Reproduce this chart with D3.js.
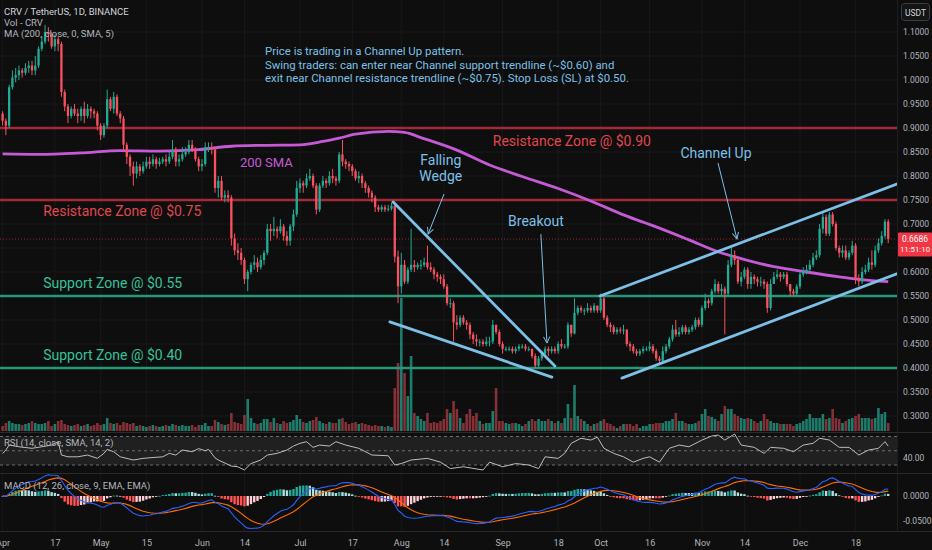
<!DOCTYPE html>
<html>
<head>
<meta charset="utf-8">
<script src="https://d3js.org/d3.v7.min.js"></script>
<style>
  body { margin: 0; background: #0e0e0e; }
  svg { display: block; font-family: Roboto, "Noto Sans", sans-serif; }
</style>
</head>
<body>
<script>
// ---- data (daily CRV/USDT) ----
const startDay = "2023-04-01";
const firstOpen = 0.93;

const closes = [
  // Apr
  .915,.905,.985,1.005,1.01,1.02,1.015,1.025,1.03,1.02,1.03,1.065,1.08,1.10,1.095,1.07,1.085,1.075,.975,.945,.925,.94,.93,.925,.94,.925,.94,.935,.93,.905,
  // May
  .885,.905,.96,.94,.965,.93,.92,.865,.84,.82,.805,.82,.81,.82,.83,.825,.835,.825,.83,.835,.83,.84,.855,.83,.835,.845,.85,.865,.855,.835,.82,
  // Jun
  .825,.86,.86,.855,.775,.79,.755,.76,.755,.67,.645,.64,.625,.585,.60,.615,.62,.61,.625,.64,.69,.685,.69,.685,.695,.675,.665,.695,.72,.775,
  // Jul
  .785,.78,.795,.80,.78,.73,.78,.79,.785,.80,.795,.79,.845,.83,.825,.82,.81,.795,.80,.785,.775,.765,.755,.735,.73,.735,.73,.732,.738,.632,.57,
  // Aug
  .615,.58,.605,.615,.61,.615,.615,.62,.61,.605,.595,.59,.585,.57,.535,.535,.495,.49,.505,.495,.49,.47,.46,.455,.455,.45,.455,.455,.49,.475,.45,
  // Sep
  .44,.44,.44,.435,.44,.445,.445,.44,.44,.425,.405,.42,.43,.44,.435,.44,.435,.45,.445,.445,.49,.472,.515,.525,.52,.52,.525,.52,.53,.52,
  // Oct
  .545,.505,.49,.485,.475,.48,.478,.48,.45,.445,.435,.43,.435,.44,.44,.445,.435,.42,.415,.435,.445,.46,.48,.47,.475,.485,.475,.48,.485,.50,.49,
  // Nov
  .525,.54,.535,.56,.575,.56,.565,.555,.615,.635,.625,.58,.59,.605,.575,.59,.585,.58,.58,.575,.525,.575,.59,.595,.59,.595,.575,.56,.555,.57,
  // Dec
  .595,.60,.605,.615,.63,.635,.69,.715,.68,.72,.70,.65,.64,.645,.63,.64,.655,.585,.58,.60,.605,.62,.615,.645,.66,.675,.705,.6686
];

const highs = [
  .935,.92,.99,1.02,1.025,1.03,1.025,1.035,1.04,1.04,1.05,1.07,1.09,1.115,1.11,1.10,1.095,1.09,1.08,.98,.95,.945,.95,.94,.945,.955,.95,.945,.94,.935,
  .91,.91,.98,.965,.975,.97,.935,.925,.87,.845,.83,.83,.825,.83,.84,.84,.845,.84,.838,.84,.845,.85,.875,.86,.845,.86,.86,.875,.875,.86,.84,
  .835,.87,.87,.87,.86,.80,.80,.77,.77,.76,.68,.66,.65,.63,.605,.62,.635,.63,.635,.645,.70,.70,.715,.695,.71,.70,.685,.70,.73,.79,
  .795,.79,.805,.815,.805,.785,.785,.80,.795,.81,.815,.80,.85,.875,.835,.83,.825,.815,.81,.805,.79,.78,.77,.76,.74,.74,.74,.74,.745,.745,.645,
  .64,.625,.61,.69,.625,.62,.625,.63,.655,.62,.61,.60,.595,.595,.575,.545,.54,.51,.51,.51,.50,.495,.475,.47,.46,.46,.465,.465,.50,.49,.48,
  .455,.445,.445,.445,.445,.45,.45,.45,.445,.44,.43,.425,.435,.445,.445,.445,.445,.455,.46,.45,.495,.49,.545,.53,.53,.525,.535,.53,.535,.53,
  .555,.55,.51,.495,.49,.485,.485,.49,.48,.455,.45,.44,.44,.445,.445,.455,.45,.44,.425,.445,.45,.465,.49,.50,.485,.49,.49,.485,.49,.505,.505,
  .53,.555,.545,.565,.585,.58,.575,.57,.625,.655,.645,.63,.60,.61,.61,.60,.595,.59,.59,.585,.58,.585,.60,.605,.60,.60,.60,.575,.565,.575,
  .60,.61,.615,.625,.64,.645,.70,.725,.72,.725,.725,.705,.655,.655,.655,.645,.665,.66,.595,.61,.615,.63,.645,.655,.67,.685,.71,.71
];

const lows = [
  .905,.885,.90,.98,.995,1.00,1.005,1.01,1.015,1.01,1.01,1.025,1.06,1.075,1.08,1.065,1.06,1.06,.965,.935,.91,.92,.925,.91,.915,.91,.92,.92,.92,.895,
  .875,.88,.90,.935,.93,.925,.91,.855,.825,.80,.78,.795,.80,.805,.815,.815,.82,.815,.82,.825,.82,.825,.835,.82,.82,.83,.84,.845,.85,.83,.81,
  .81,.82,.85,.845,.765,.755,.75,.745,.745,.655,.635,.625,.615,.575,.56,.595,.605,.60,.605,.615,.635,.665,.675,.67,.68,.665,.655,.655,.685,.715,
  .765,.765,.775,.79,.775,.72,.725,.775,.775,.78,.785,.78,.785,.82,.815,.81,.80,.79,.785,.775,.765,.755,.745,.725,.725,.725,.725,.726,.728,.62,.535,
  .555,.575,.575,.60,.60,.605,.605,.61,.605,.60,.585,.58,.575,.565,.53,.525,.455,.48,.485,.49,.48,.46,.45,.445,.445,.445,.445,.445,.45,.47,.445,
  .43,.435,.435,.43,.43,.435,.44,.435,.435,.42,.40,.40,.415,.425,.425,.43,.43,.43,.44,.44,.44,.465,.47,.51,.515,.51,.515,.515,.515,.515,
  .515,.50,.485,.475,.47,.47,.472,.47,.445,.435,.43,.425,.425,.43,.435,.435,.43,.415,.41,.41,.43,.44,.455,.465,.465,.47,.47,.47,.475,.48,.485,
  .485,.52,.525,.53,.555,.555,.55,.47,.55,.61,.615,.575,.57,.585,.565,.565,.575,.57,.57,.565,.515,.52,.575,.585,.58,.585,.57,.55,.55,.55,
  .565,.59,.595,.60,.61,.625,.63,.68,.675,.675,.695,.645,.63,.63,.625,.625,.635,.575,.57,.575,.595,.60,.605,.61,.64,.655,.67,.66
];

// volume, millions CRV
const volumes = [
  5,8,10,8,7,7,6,7,8,10,8,7,7,8,10,5,7,10,11,7,6,5,6,7,5,6,7,5,6,8,
  6,7,13,8,7,8,6,9,8,7,8,5,6,5,4,5,6,5,4,5,6,5,7,6,5,6,5,5,6,4,6,
  6,8,5,5,11,9,7,6,7,18,9,8,7,16,32,13,8,7,8,12,12,9,13,8,7,10,8,9,11,16,
  12,9,8,10,11,14,10,8,7,9,8,8,12,13,9,7,8,9,7,8,7,6,5,6,5,5,4,5,4,43,68,
  133,58,35,75,18,15,12,10,18,8,9,8,10,12,22,18,30,22,13,8,17,22,15,18,10,7,8,8,20,43,10,
  10,8,7,8,8,7,5,7,10,12,10,12,10,10,12,10,8,10,8,13,27,13,46,15,12,10,7,5,7,8,
  10,12,8,7,5,3,5,7,7,7,5,7,3,5,5,7,7,8,8,8,10,10,12,18,10,10,8,7,7,8,10,
  17,22,15,14,12,10,17,25,22,22,17,15,13,12,13,12,10,8,10,17,12,10,8,8,7,7,7,7,5,7,
  8,10,12,17,13,13,13,17,12,13,22,13,12,8,10,12,13,15,17,13,13,13,12,13,23,17,19,8
];

// 200-day SMA, [day index, value]
const smaPoints = [
  [0,.846],[11,.845],[24,.848],[36,.853],[48,.852],[60,.855],[70,.862],[80,.864],[91,.865],
  [98,.872],[103,.879],[108,.887],[118,.893],[123,.891],[128,.880],[139,.854],[149,.823],
  [159,.799],[170,.774],[180,.748],[190,.719],[200,.694],[210,.667],[219,.642],[226,.628],
  [236,.611],[246,.60],[256,.59],[266,.582],[271,.58]
];

// RSI(14), [day index, value]
const rsiPoints = [
  [0,46],[1,51],[2,58],[5,55.6],[9,53.4],[12,55.6],[15,58],[17,62.7],[18,44],[20,41.5],[23,41.5],
  [26,44],[29,39.3],[31,46.3],[32,52],[34,48.6],[36,41.5],[40,37],[43,39.3],[46,40.5],[49,41.5],
  [51,46.3],[53,44],[55,51],[58,48.6],[60,53],[62,50],[63,52],[65,40],[66,37],[70,28.5],[72,27.5],
  [74,23],[76,32],[79,37],[81,44],[84,46.3],[87,51],[89,56.6],[91,60.4],[93,62.7],[95,54.8],
  [97,58],[100,56.6],[102,62.7],[105,58],[109,53.4],[113,44],[118,43],[120,30],[122,32],[125,37],
  [130,39.3],[134,34],[137,25],[141,27.5],[147,23],[149,34],[153,27.5],[157,32],[161,30],[164,25],
  [166,41.5],[170,39.3],[172,46.3],[174,60.4],[177,67.5],[180,65],[182,69],[184,53.4],[187,46.3],
  [190,41.5],[193,34],[196,39.3],[198,41.5],[201,34],[204,53.4],[207,58],[210,55.6],[214,65],
  [217,70.7],[219,72],[221,65],[224,73.5],[226,58],[230,54.8],[233,46.3],[235,54.8],[239,53.4],
  [242,48.6],[245,58],[248,60.4],[250,67.5],[253,65],[256,54.8],[259,54.8],[262,44],[265,51],
  [268,53.4],[270,62.7],[271,56.6]
];

const priceTicks = [0.30,0.35,0.40,0.45,0.50,0.55,0.60,0.65,0.70,0.75,0.80,0.85,0.90,0.95,1.00,1.05,1.10];
const timeTickDates = ["2023-04-01","2023-04-17","2023-05-01","2023-05-15","2023-06-01","2023-06-14",
  "2023-07-01","2023-07-17","2023-08-01","2023-08-14","2023-09-01","2023-09-18","2023-10-01",
  "2023-10-16","2023-11-01","2023-11-14","2023-12-01","2023-12-18"];
const timeTickLabels = ["Apr","17","May","15","Jun","14","Jul","17","Aug","14","Sep","18","Oct","16","Nov","14","Dec","18"];

const resistanceLevels = [0.90, 0.75];
const supportLevels = [0.55, 0.40];

// drawings, anchored in [time, price]
const trendLines = [
  [["2023-07-29T12:00:00Z", 0.746], ["2023-09-17T00:00:00Z", 0.404]],
  [["2023-07-28T12:00:00Z", 0.496], ["2023-09-16T02:00:00Z", 0.381]],
  [["2023-09-30T19:00:00Z", 0.550], ["2023-12-31T07:00:00Z", 0.785]],
  [["2023-10-07T12:00:00Z", 0.379], ["2023-12-31T07:00:00Z", 0.598]]
];
const arrows = [
  [["2023-08-14T02:00:00Z", 0.7625], ["2023-08-09T05:00:00Z", 0.679]],
  [["2023-09-12T17:00:00Z", 0.679], ["2023-09-14T14:00:00Z", 0.452]],
  [["2023-11-05T22:00:00Z", 0.827], ["2023-11-11T17:00:00Z", 0.669]]
];
const noteLines = [
  "Price is trading in a Channel Up pattern.",
  "Swing traders: can enter near Channel support trendline (~$0.60) and",
  "exit near Channel resistance trendline (~$0.75). Stop Loss (SL) at $0.50."
];

// ---- layout ----
const W = 932, H = 550;
const paneR = 897;
const mainB = 432, rsiT = 433, rsiB = 473, macdT = 474, macdB = 531;
const up = "#22ab94", down = "#f7525f";

const day0 = d3.utcParse("%Y-%m-%d")(startDay);
const dates = closes.map((_, i) => d3.utcDay.offset(day0, i));
const opens = closes.map((c, i) => i ? closes[i - 1] : firstOpen);
const candles = dates.map((d, i) => ({ d, o: opens[i], h: highs[i], l: lows[i], c: closes[i], v: volumes[i] }));

const step = 3.268;
const x = d3.scaleUtc().domain([dates[0], dates[dates.length - 1]])
  .range([2.6, 2.6 + (dates.length - 1) * step]);
const y = d3.scaleLinear().domain([0.40, 0.90]).range([368, 128]);
const yVol = d3.scaleLinear().domain([0, 133]).range([431, 298]);
const yRsi = d3.scaleLinear().domain([30, 70]).range([465, 436.5]);
const yMacd = d3.scaleLinear().domain([-0.05, 0]).range([520.7, 496]);
const dayX = i => x(d3.utcDay.offset(day0, i));
const pt = p => [x(d3.isoParse(p[0])), y(p[1])];

const svg = d3.select("body").append("svg").attr("width", W).attr("height", H);
svg.append("rect").attr("width", W).attr("height", H).attr("fill", "#0e0e0e");

const defs = svg.append("defs");
defs.append("clipPath").attr("id", "mainClip").append("rect").attr("width", paneR).attr("height", mainB);
defs.append("clipPath").attr("id", "rsiClip").append("rect").attr("y", rsiT).attr("width", paneR).attr("height", rsiB - rsiT);
defs.append("clipPath").attr("id", "macdClip").append("rect").attr("y", macdT).attr("width", paneR).attr("height", macdB - macdT);
defs.append("marker").attr("id", "arrowHead").attr("viewBox", "0 -5 10 10")
  .attr("refX", 9).attr("refY", 0).attr("markerWidth", 8).attr("markerHeight", 8)
  .attr("markerUnits", "userSpaceOnUse").attr("orient", "auto")
  .append("path").attr("d", "M1,-4L9,0L1,4").attr("fill", "none").attr("stroke", "#7cc0e8").attr("stroke-width", 1.2);

// grid
const tickDates = timeTickDates.map(d3.utcParse("%Y-%m-%d"));
svg.append("g").selectAll("line").data(tickDates).join("line")
  .attr("x1", d => x(d)).attr("x2", d => x(d)).attr("y1", 0).attr("y2", macdB)
  .attr("stroke", "#181818");
svg.append("g").selectAll("line").data(priceTicks).join("line")
  .attr("x1", 0).attr("x2", paneR).attr("y1", d => y(d)).attr("y2", d => y(d))
  .attr("stroke", "#181818");

// pane separators
[mainB + 0.5, rsiB + 0.5, macdB + 0.5].forEach(v =>
  svg.append("line").attr("x1", 0).attr("x2", W).attr("y1", v).attr("y2", v).attr("stroke", "#2a2a2a"));
svg.append("line").attr("x1", paneR + 0.5).attr("x2", paneR + 0.5).attr("y1", 0).attr("y2", macdB).attr("stroke", "#1e1e1e");

// ---- main pane ----
const main = svg.append("g").attr("clip-path", "url(#mainClip)");

main.append("g").selectAll("rect").data(candles).join("rect")
  .attr("x", d => x(d.d) - 1.3).attr("width", 2.6)
  .attr("y", d => yVol(d.v)).attr("height", d => yVol(0) - yVol(d.v))
  .attr("fill", d => d.c >= d.o ? "rgba(34,171,148,0.7)" : "rgba(247,82,95,0.5)");

main.append("g").selectAll("line").data(resistanceLevels).join("line")
  .attr("x1", 0).attr("x2", paneR).attr("y1", d => y(d)).attr("y2", d => y(d))
  .attr("stroke", "#a32a36").attr("stroke-width", 2.4);
main.append("g").selectAll("line").data(supportLevels).join("line")
  .attr("x1", 0).attr("x2", paneR).attr("y1", d => y(d)).attr("y2", d => y(d))
  .attr("stroke", "#27977a").attr("stroke-width", 2.4);

const last = candles[candles.length - 1];
main.append("line").attr("x1", 0).attr("x2", paneR).attr("y1", y(last.c)).attr("y2", y(last.c))
  .attr("stroke", "#f23645").attr("stroke-opacity", 0.6).attr("stroke-dasharray", "1,2");

main.append("path")
  .datum(smaPoints)
  .attr("d", d3.line().x(d => dayX(d[0])).y(d => y(d[1])).curve(d3.curveMonotoneX))
  .attr("fill", "none").attr("stroke", "#c65ad6").attr("stroke-width", 2.8);

const cg = main.append("g");
cg.selectAll("line").data(candles).join("line")
  .attr("x1", d => x(d.d)).attr("x2", d => x(d.d))
  .attr("y1", d => y(Math.max(d.h, d.o, d.c))).attr("y2", d => y(Math.min(d.l, d.o, d.c)))
  .attr("stroke", d => d.c >= d.o ? up : down).attr("stroke-width", 1);
cg.selectAll("rect").data(candles).join("rect")
  .attr("x", d => x(d.d) - 1.15).attr("width", 2.3)
  .attr("y", d => y(Math.max(d.o, d.c)))
  .attr("height", d => Math.max(1, Math.abs(y(d.o) - y(d.c))))
  .attr("fill", d => d.c >= d.o ? up : down);

main.append("g").selectAll("line").data(trendLines).join("line")
  .attr("x1", d => pt(d[0])[0]).attr("y1", d => pt(d[0])[1])
  .attr("x2", d => pt(d[1])[0]).attr("y2", d => pt(d[1])[1])
  .attr("stroke", "#7cc0e8").attr("stroke-width", 2.8).attr("stroke-linecap", "round");
main.append("g").selectAll("line").data(arrows).join("line")
  .attr("x1", d => pt(d[0])[0]).attr("y1", d => pt(d[0])[1])
  .attr("x2", d => pt(d[1])[0]).attr("y2", d => pt(d[1])[1])
  .attr("stroke", "#7cc0e8").attr("stroke-width", 1).attr("marker-end", "url(#arrowHead)");

// labels
const label = (txt, px, py, color, anchor, size) =>
  main.append("text").attr("x", px).attr("y", py).attr("fill", color)
    .attr("text-anchor", anchor).attr("font-size", size).text(txt);
const at = s => x(d3.isoParse(s));

label("Resistance Zone @ $0.90", at("2023-08-29T00:00:00Z"), y(0.90) + 18, "#e0474f", "start", 14);
label("Resistance Zone @ $0.75", at("2023-04-13T10:00:00Z"), y(0.75) + 16, "#e0474f", "start", 14);
label("Support Zone @ $0.55", at("2023-04-13T10:00:00Z"), y(0.55) - 8, "#35c29c", "start", 14);
label("Support Zone @ $0.40", at("2023-04-13T10:00:00Z"), y(0.40) - 8, "#35c29c", "start", 14);
label("200 SMA", at("2023-06-20T17:00:00Z"), y(0.819), "#c65ad6", "middle", 13);
label("Falling", at("2023-08-13T02:00:00Z"), y(0.823), "#7cc0e8", "middle", 14);
label("Wedge", at("2023-08-13T02:00:00Z"), y(0.79), "#7cc0e8", "middle", 14);
label("Breakout", at("2023-09-11T05:00:00Z"), y(0.696), "#7cc0e8", "middle", 14);
label("Channel Up", at("2023-11-05T07:00:00Z"), y(0.8375), "#7cc0e8", "middle", 14);
noteLines.forEach((t, i) =>
  label(t, at("2023-06-20T07:00:00Z"), y(1.052) + i * 13.5, "#7cc0e8", "start", 11.4));

// legend
[["CRV / TetherUS, 1D, BINANCE", "#d1d4dc"], ["Vol - CRV", "#b2b5be"], ["MA (200, close, 0, SMA, 5)", "#b2b5be"]]
  .forEach((t, i) => svg.append("text").attr("x", 4).attr("y", 15 + i * 11.2)
    .attr("fill", t[1]).attr("font-size", 9.5).text(t[0]));

// ---- RSI pane ----
const rsiG = svg.append("g").attr("clip-path", "url(#rsiClip)");
rsiG.append("rect").attr("x", 0).attr("width", paneR).attr("y", yRsi(70)).attr("height", yRsi(30) - yRsi(70))
  .attr("fill", "#202020");
rsiG.append("g").selectAll("line").data([70, 50, 30]).join("line")
  .attr("x1", 0).attr("x2", paneR).attr("y1", d => yRsi(d)).attr("y2", d => yRsi(d))
  .attr("stroke", "#6a6d75").attr("stroke-dasharray", "3,3");
rsiG.append("path").datum(rsiPoints)
  .attr("d", d3.line().x(d => dayX(d[0])).y(d => yRsi(d[1])))
  .attr("fill", "none").attr("stroke", "#bdbdbd").attr("stroke-width", 1);
svg.append("text").attr("x", 4).attr("y", 446).attr("fill", "#b2b5be").attr("font-size", 9.5)
  .text("RSI (14, close, SMA, 14, 2)");

// ---- MACD pane ----
const ema = (arr, n) => { const k = 2 / (n + 1); let e = arr[0]; return arr.map((v, i) => i ? (e = v * k + e * (1 - k)) : e); };
const e12 = ema(closes, 12), e26 = ema(closes, 26);
const macd = closes.map((_, i) => e12[i] - e26[i]);
const signal = ema(macd, 9);
const hist = macd.map((m, i) => m - signal[i]);

const macdG = svg.append("g").attr("clip-path", "url(#macdClip)");
macdG.append("g").selectAll("rect").data(hist).join("rect")
  .attr("x", (d, i) => dayX(i) - 1.2).attr("width", 2.4)
  .attr("y", d => Math.min(yMacd(d), yMacd(0)))
  .attr("height", d => Math.max(0.8, Math.abs(yMacd(d) - yMacd(0))))
  .attr("fill", (d, i) => {
    const p = i ? hist[i - 1] : d;
    return d >= 0 ? (d >= p ? "#26a69a" : "#b2dfdb") : (d < p ? "#ff5252" : "#ffcdd2");
  });
const macdLine = d3.line().x((d, i) => dayX(i)).y(d => yMacd(d));
macdG.append("path").datum(signal).attr("d", macdLine).attr("fill", "none").attr("stroke", "#ff6d00").attr("stroke-width", 1.1);
macdG.append("path").datum(macd).attr("d", macdLine).attr("fill", "none").attr("stroke", "#2962ff").attr("stroke-width", 1.1);
svg.append("text").attr("x", 4).attr("y", 489).attr("fill", "#b2b5be").attr("font-size", 9.5)
  .text("MACD (12, 26, close, 9, EMA, EMA)");

// ---- axes ----
const xAxis = svg.append("g").attr("transform", `translate(0,${macdB})`)
  .call(d3.axisBottom(x).tickValues(tickDates).tickFormat((d, i) => timeTickLabels[i]).tickSize(0).tickPadding(9));
xAxis.select(".domain").remove();
xAxis.selectAll("text").attr("fill", "#b2b5be").attr("font-size", 9).attr("font-family", "Roboto, sans-serif");

const shownTicks = priceTicks.filter(t => Math.abs(y(t) - y(last.c)) > 14);
const yAxis = svg.append("g").attr("transform", `translate(${paneR},0)`)
  .call(d3.axisRight(y).tickValues(shownTicks).tickFormat(d3.format(".4f")).tickSize(0).tickPadding(6));
yAxis.select(".domain").remove();
yAxis.selectAll("text").attr("fill", "#b2b5be").attr("font-size", 8.5).attr("font-family", "Roboto, sans-serif");

const axisText = (t, py) => svg.append("text").attr("x", 903).attr("y", py + 3)
  .attr("fill", "#b2b5be").attr("font-size", 8.5).text(t);
axisText("40.00", yRsi(40));
axisText("0.0000", yMacd(0));
axisText("-0.0500", yMacd(-0.05));

// current price tag
svg.append("rect").attr("x", paneR + 1).attr("y", y(last.c) - 6.5).attr("width", W - paneR - 1).attr("height", 24)
  .attr("fill", "#f23645").attr("rx", 1);
svg.append("text").attr("x", 915).attr("y", y(last.c) + 2.5).attr("text-anchor", "middle")
  .attr("fill", "#fff").attr("font-size", 8.5).text(d3.format(".4f")(last.c));
svg.append("text").attr("x", 915).attr("y", y(last.c) + 12.5).attr("text-anchor", "middle")
  .attr("fill", "#fff").attr("font-size", 7.8).text("11:51:10");

// currency box
svg.append("rect").attr("x", 901.5).attr("y", 3.5).attr("width", 28).attr("height", 17).attr("rx", 3)
  .attr("fill", "#141414").attr("stroke", "#3a3d45");
svg.append("text").attr("x", 915.5).attr("y", 15.5).attr("text-anchor", "middle")
  .attr("fill", "#d1d4dc").attr("font-size", 8.5).text("USDT");
</script>
</body>
</html>
